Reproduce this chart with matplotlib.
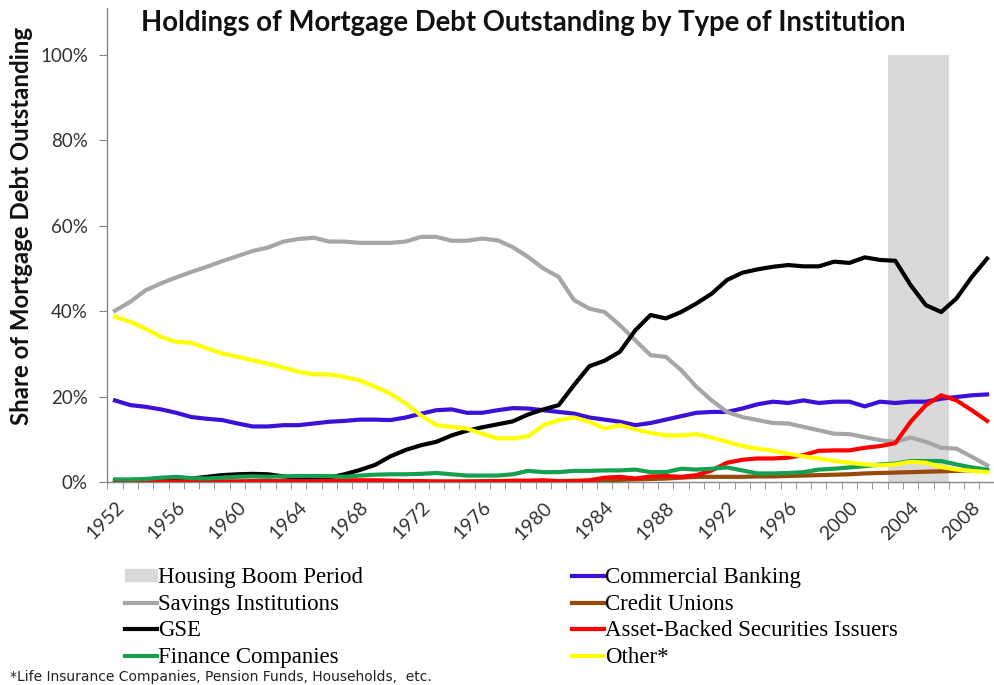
import numpy as np
import matplotlib
matplotlib.use("Agg")
import matplotlib.pyplot as plt
from matplotlib.lines import Line2D
from matplotlib.patches import Patch
from matplotlib.ticker import FixedLocator, PercentFormatter

years = list(range(1952, 2010))

# shares of mortgage debt outstanding, in %
commercial = [19.1, 18.0, 17.6, 17.0, 16.2, 15.2, 14.8, 14.5, 13.7, 13.0,
              13.0, 13.3, 13.3, 13.7, 14.1, 14.3, 14.6, 14.6, 14.5, 15.1,
              16.0, 16.8, 17.0, 16.2, 16.2, 16.8, 17.3, 17.2, 16.8, 16.4,
              16.0, 15.1, 14.6, 14.1, 13.3, 13.8, 14.6, 15.4, 16.2, 16.4,
              16.4, 17.2, 18.2, 18.8, 18.5, 19.1, 18.5, 18.8, 18.8, 17.7,
              18.8, 18.5, 18.8, 18.8, 19.5, 19.9, 20.3, 20.5]
savings = [40.1, 42.2, 44.9, 46.5, 47.9, 49.2, 50.4, 51.7, 52.9, 54.1,
           54.9, 56.3, 56.9, 57.2, 56.3, 56.3, 56.0, 56.0, 56.0, 56.3,
           57.4, 57.4, 56.5, 56.5, 57.0, 56.6, 55.0, 52.7, 50.0, 48.0,
           42.6, 40.6, 39.8, 36.7, 33.2, 29.7, 29.3, 26.2, 22.3, 19.1,
           16.4, 15.2, 14.5, 13.8, 13.7, 12.9, 12.1, 11.3, 11.2, 10.5,
           9.8, 9.4, 10.4, 9.4, 8.0, 7.8, 5.9, 3.9]
credit_unions = [0.1, 0.1, 0.1, 0.1, 0.1, 0.1, 0.1, 0.1, 0.1, 0.1,
                 0.1, 0.1, 0.1, 0.1, 0.1, 0.1, 0.1, 0.1, 0.1, 0.1,
                 0.1, 0.1, 0.1, 0.1, 0.2, 0.2, 0.2, 0.2, 0.2, 0.2,
                 0.3, 0.3, 0.4, 0.5, 0.6, 0.7, 0.8, 1.0, 1.2, 1.2,
                 1.2, 1.2, 1.3, 1.3, 1.4, 1.5, 1.6, 1.7, 1.8, 2.0,
                 2.1, 2.2, 2.3, 2.4, 2.5, 2.6, 2.7, 2.7]
gse = [0.2, 0.3, 0.5, 0.7, 1.0, 0.8, 1.2, 1.6, 1.8, 1.9,
       1.8, 1.3, 0.9, 0.8, 1.0, 1.8, 2.8, 4.0, 6.0, 7.5,
       8.6, 9.4, 10.9, 12.0, 12.8, 13.5, 14.2, 15.8, 17.0, 18.0,
       22.7, 27.1, 28.4, 30.5, 35.5, 39.1, 38.3, 39.8, 41.8, 44.1,
       47.3, 49.0, 49.8, 50.4, 50.8, 50.5, 50.5, 51.6, 51.3, 52.6,
       52.0, 51.8, 46.1, 41.4, 39.8, 43.0, 48.0, 52.3]
abs_issuers = [0.1, 0.1, 0.1, 0.1, 0.1, 0.1, 0.1, 0.1, 0.1, 0.2,
               0.2, 0.2, 0.2, 0.2, 0.3, 0.4, 0.4, 0.4, 0.3, 0.2,
               0.2, 0.1, 0.1, 0.1, 0.1, 0.2, 0.3, 0.3, 0.4, 0.2,
               0.1, 0.4, 1.0, 1.2, 0.8, 1.3, 1.4, 1.2, 1.6, 2.7,
               4.5, 5.2, 5.5, 5.5, 5.7, 6.3, 7.3, 7.4, 7.4, 8.0,
               8.4, 9.1, 14.1, 18.0, 20.3, 19.1, 16.8, 14.3]
finance = [0.6, 0.6, 0.7, 1.0, 1.2, 0.9, 0.8, 1.0, 1.2, 1.3,
           1.2, 1.3, 1.4, 1.4, 1.4, 1.2, 1.5, 1.7, 1.8, 1.8,
           1.9, 2.1, 1.8, 1.5, 1.5, 1.5, 1.8, 2.6, 2.3, 2.3,
           2.6, 2.6, 2.7, 2.7, 2.9, 2.3, 2.3, 3.1, 2.9, 3.1,
           3.4, 2.7, 2.0, 2.0, 2.1, 2.3, 2.9, 3.1, 3.4, 3.7,
           4.1, 4.3, 4.9, 4.9, 4.9, 4.1, 3.4, 2.9]
other = [38.7, 37.5, 35.9, 34.0, 32.8, 32.6, 31.3, 30.1, 29.3, 28.5,
         27.7, 26.8, 25.8, 25.2, 25.2, 24.6, 23.8, 22.3, 20.7, 18.4,
         15.6, 13.3, 12.9, 12.5, 11.3, 10.2, 10.2, 10.7, 13.3, 14.5,
         15.1, 14.1, 12.5, 13.3, 12.3, 11.5, 10.9, 10.9, 11.2, 10.4,
         9.4, 8.4, 7.8, 7.3, 6.6, 6.0, 5.5, 4.9, 4.5, 4.1,
         3.9, 4.1, 4.7, 4.5, 3.5, 2.9, 2.6, 2.3]

boom_start, boom_end = 2003, 2006

series = [
    ("Commercial Banking", commercial, "#3c10d8"),
    ("Savings Institutions", savings, "#a6a6a6"),
    ("Credit Unions", credit_unions, "#984807"),
    ("GSE", gse, "#000000"),
    ("Asset-Backed Securities Issuers", abs_issuers, "#ff0000"),
    ("Finance Companies", finance, "#14a050"),
    ("Other*", other, "#ffff00"),
]

fig = plt.figure(figsize=(9.94, 6.85), dpi=100)
ax = fig.add_axes([0.108, 0.2964, 0.892, 0.6919])

# housing boom band
ax.bar((boom_start + boom_end) / 2, 1.0, width=boom_end - boom_start + 1,
       color="#d9d9d9", zorder=1)

for name, vals, col in series:
    ax.plot(years, np.array(vals) / 100, color=col, lw=3.0, zorder=3,
            solid_joinstyle="round")

ax.set_xlim(1951.5, 2009.45)
ax.set_ylim(0, 1.11)

ax.set_yticks([0, 0.2, 0.4, 0.6, 0.8, 1.0])
ax.yaxis.set_major_formatter(PercentFormatter(1.0, decimals=0))
ax.set_xticks(range(1952, 2010, 4))
ax.xaxis.set_minor_locator(FixedLocator(np.arange(1951.5, 2010, 1)))
ax.tick_params(axis="x", which="major", length=0, pad=12)
ax.tick_params(axis="x", which="minor", length=5, color="#868686")
ax.tick_params(axis="y", length=6, color="#868686", pad=8)
for lbl in ax.get_xticklabels():
    lbl.set_rotation(45)
    lbl.set_ha("right")
    lbl.set_rotation_mode("anchor")
    lbl.set_fontfamily("Lato")
    lbl.set_fontsize(14)
    lbl.set_color("#333333")
for lbl in ax.get_yticklabels():
    lbl.set_fontfamily("Lato")
    lbl.set_fontsize(13.5)
    lbl.set_color("#333333")

for s in ["top", "right"]:
    ax.spines[s].set_visible(False)
for s in ["left", "bottom"]:
    ax.spines[s].set_color("#868686")
    ax.spines[s].set_linewidth(1)

fig.text(0.526, 0.966, "Holdings of Mortgage Debt Outstanding by Type of Institution",
         ha="center", va="center", fontsize=19.8, fontweight="bold",
         family="Lato", color="#111111")
fig.text(0.022, 0.67, "Share of Mortgage Debt Outstanding", rotation=90,
         ha="center", va="center", fontsize=17.3, fontweight="bold",
         family="Lato", color="#111111")

handles = [Patch(color="#d9d9d9", label="Housing Boom Period")]
for name, vals, col in series:
    handles.append(Line2D([], [], color=col, lw=3.0, label=name))
col1 = [handles[0], handles[2], handles[4], handles[6]]
col2 = [handles[1], handles[3], handles[5], handles[7]]
leg_kw = dict(loc="upper left", frameon=False, borderpad=0, borderaxespad=0,
              handlelength=1.4, handleheight=0.4, handletextpad=0.05,
              labelspacing=0.24,
              prop={"family": "Liberation Serif", "size": 16.5})
leg1 = fig.legend(handles=col1, bbox_to_anchor=(0.126, 0.172), **leg_kw)
leg2 = fig.legend(handles=col2, bbox_to_anchor=(0.575, 0.172), **leg_kw)

fig.text(0.01, 0.012, "*Life Insurance Companies, Pension Funds, Households,  etc.",
         ha="left", va="center", fontsize=10, family="DejaVu Sans", color="#222222")

fig.savefig("out.png", dpi=100)
